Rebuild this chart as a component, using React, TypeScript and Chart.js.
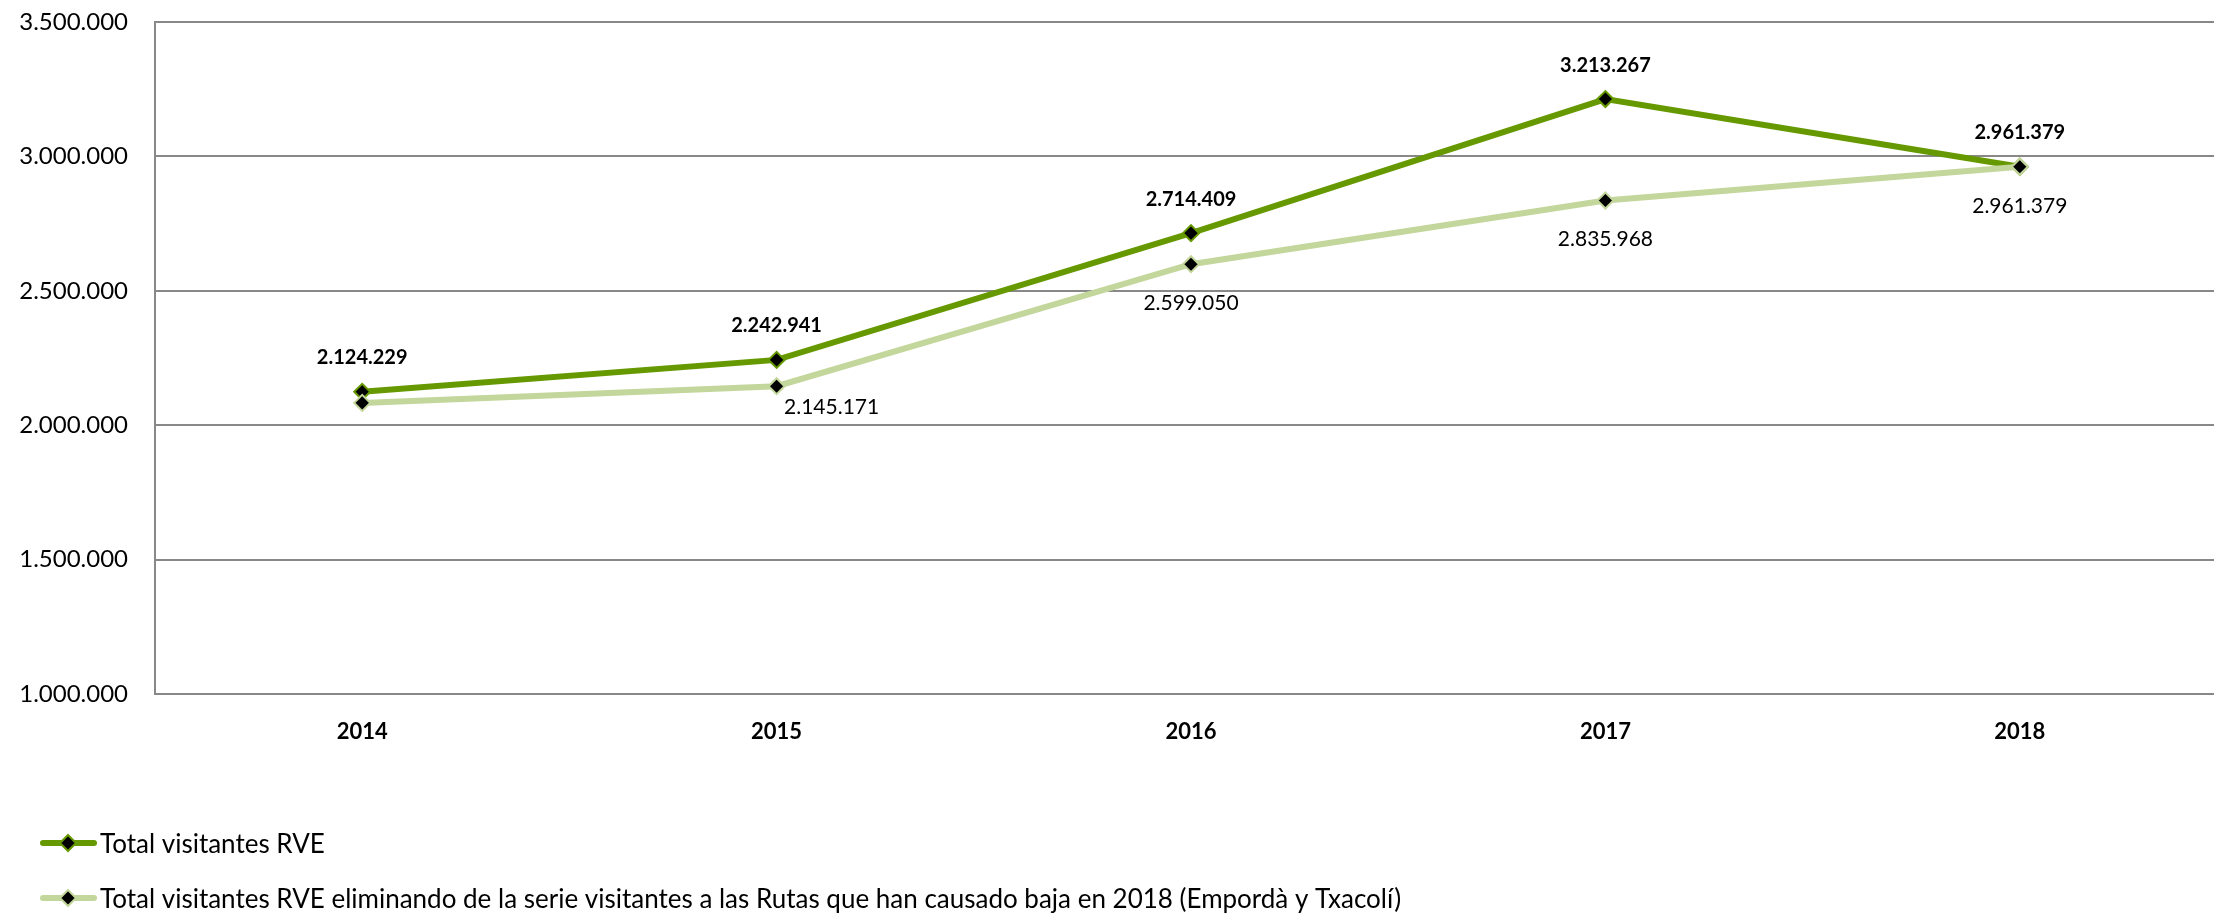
import React, { useEffect, useRef } from 'react';
import { Chart, registerables } from 'chart.js';

Chart.register(...registerables);

// ---- Data ----
const categories = ['2014', '2015', '2016', '2017', '2018'];
const totalVisitors = [2124229, 2242941, 2714409, 3213267, 2961379];
const adjustedVisitors = [2083000, 2145171, 2599050, 2835968, 2961379];
const seriesLabels = [
  'Total visitantes RVE',
  'Total visitantes RVE eliminando de la serie visitantes a las Rutas que han causado baja en 2018 (Empordà y Txacolí)',
];
const yMin = 1000000;
const yMax = 3500000;
const yStep = 500000;
// where the value label of the second series sits
const adjustedLabelPlacement = ['none', 'right', 'below', 'below', 'below'];

// ---- Styles ----
const DARK = '#669900';
const LIGHT = '#c3d69b';
const GRID = '#888888';
const FONT = 'Lato';

const fmt = (v: number) =>
  Math.round(v).toString().replace(/\B(?=(\d{3})+(?!\d))/g, '.');

const valueLabels = {
  id: 'valueLabels',
  afterDatasetsDraw(chart: any) {
    const ctx = chart.ctx;
    ctx.save();
    ctx.fillStyle = '#000';
    ctx.textAlign = 'center';
    ctx.textBaseline = 'middle';
    const m0 = chart.getDatasetMeta(0);
    ctx.font = `bold 20px ${FONT}`;
    m0.data.forEach((pt: any, i: number) => {
      ctx.fillText(fmt(totalVisitors[i]), pt.x, pt.y - 34);
    });
    const m1 = chart.getDatasetMeta(1);
    ctx.font = `21px ${FONT}`;
    m1.data.forEach((pt: any, i: number) => {
      const place = adjustedLabelPlacement[i];
      if (place === 'none') return;
      if (place === 'right') {
        ctx.fillText(fmt(adjustedVisitors[i]), pt.x + 55, pt.y + 21);
      } else {
        ctx.fillText(fmt(adjustedVisitors[i]), pt.x, pt.y + 39);
      }
    });
    ctx.restore();
  },
};

const customLegend = {
  id: 'customLegend',
  afterDraw(chart: any) {
    const ctx = chart.ctx;
    const base = chart.chartArea.bottom;
    chart.data.datasets.forEach((ds: any, i: number) => {
      const cy = base + 149 + i * 55;
      ctx.save();
      ctx.strokeStyle = ds.borderColor;
      ctx.lineWidth = 6;
      ctx.lineCap = 'round';
      ctx.beginPath();
      ctx.moveTo(43, cy);
      ctx.lineTo(94, cy);
      ctx.stroke();
      ctx.beginPath();
      ctx.moveTo(68, cy - 8);
      ctx.lineTo(76, cy);
      ctx.lineTo(68, cy + 8);
      ctx.lineTo(60, cy);
      ctx.closePath();
      ctx.fillStyle = '#000';
      ctx.fill();
      ctx.lineWidth = 2;
      ctx.strokeStyle = ds.pointBorderColor;
      ctx.stroke();
      ctx.font = `26px ${FONT}`;
      ctx.textBaseline = 'alphabetic';
      ctx.textAlign = 'left';
      ctx.fillStyle = '#000';
      ctx.fillText(ds.label, 100, cy + 10);
      ctx.restore();
    });
  },
};

export default function App() {
  const canvasRef = useRef<HTMLCanvasElement | null>(null);

  useEffect(() => {
    document.body.style.margin = '0';
    document.body.style.overflow = 'hidden';
    const canvas = canvasRef.current;
    if (!canvas) return;
    const chart = new Chart(canvas, {
      type: 'line',
      data: {
        labels: categories,
        datasets: [
          {
            label: seriesLabels[0],
            data: totalVisitors,
            borderColor: DARK,
            backgroundColor: DARK,
            borderWidth: 6,
            pointStyle: 'rectRot',
            pointRadius: 8,
            pointBackgroundColor: '#000',
            pointBorderColor: DARK,
            pointBorderWidth: 2,
            tension: 0,
            order: 1,
          },
          {
            label: seriesLabels[1],
            data: adjustedVisitors,
            borderColor: LIGHT,
            backgroundColor: LIGHT,
            borderWidth: 6,
            pointStyle: 'rectRot',
            pointRadius: 8,
            pointBackgroundColor: '#000',
            pointBorderColor: LIGHT,
            pointBorderWidth: 2,
            tension: 0,
            order: 0,
          },
        ],
      },
      options: {
        responsive: false,
        animation: false,
        devicePixelRatio: 1,
        layout: { padding: { top: 22, left: 0, right: 0, bottom: 0 } },
        plugins: {
          legend: { display: false },
          tooltip: { enabled: false },
        },
        scales: {
          x: {
            offset: true,
            grid: { display: false, drawTicks: false },
            border: { display: false },
            ticks: {
              color: '#000',
              padding: 25,
              font: { family: FONT, size: 22, weight: 'bold' },
            },
            afterFit: (scale: any) => {
              scale.height = 219;
            },
          },
          y: {
            min: yMin,
            max: yMax,
            grid: { color: GRID, lineWidth: 2, drawTicks: false },
            border: { display: true, color: GRID, width: 2 },
            ticks: {
              stepSize: yStep,
              color: '#000',
              padding: 27,
              font: { family: FONT, size: 24 },
              callback: (v: any) => fmt(Number(v)),
            },
            afterFit: (scale: any) => {
              scale.width = 155;
              scale.paddingTop = 0;
              scale.paddingBottom = 0;
            },
          },
        },
      },
      plugins: [valueLabels, customLegend],
    });
    return () => chart.destroy();
  }, []);

  return (
    <div style={{ width: 2214, height: 913, overflow: 'hidden', position: 'relative' }}>
      <canvas ref={canvasRef} width={2237} height={913} style={{ display: 'block' }} />
    </div>
  );
}
